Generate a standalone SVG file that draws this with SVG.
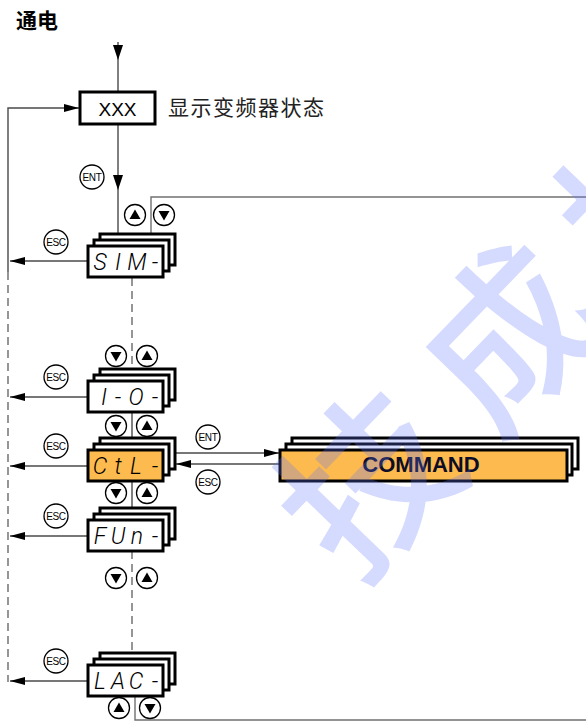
<svg xmlns="http://www.w3.org/2000/svg" xmlns:xlink="http://www.w3.org/1999/xlink" width="586" height="722" viewBox="0 0 586 722">
<style>
.ln{fill:none;stroke:#4a4a4a;stroke-width:1.4}
.dl{fill:none;stroke:#6a6a6a;stroke-width:1.4;stroke-dasharray:8 5}
.gl{fill:none;stroke:#707070;stroke-width:1.4}
.bx{fill:#fff;stroke:#000;stroke-width:3}
.bo{fill:#FDBA4E;stroke:#000;stroke-width:3}
.seg{font-family:Roboto,"DejaVu Sans",sans-serif;font-style:italic;font-weight:300;font-size:23px;fill:#000;text-anchor:middle}
.cb{fill:#fff;stroke:#000;stroke-width:1.3}
.kt{font-family:"Liberation Sans",Arial,sans-serif;font-size:10px;letter-spacing:-0.4px;text-anchor:middle;fill:#000}
.ah{fill:#000}
</style>
<defs>
<marker id="arr" markerUnits="userSpaceOnUse" markerWidth="15" markerHeight="8" refX="15" refY="4" orient="auto" viewBox="0 0 15 8">
<path d="M0,0 L15,4 L0,8 z" fill="#000"/>
</marker>
<g id="up"><circle r="10.5" class="cb"/><path d="M0,-5.5 L5.5,4 L-5.5,4 z" class="ah"/></g>
<g id="dn"><circle r="10.5" class="cb"/><path d="M0,5.5 L5.5,-4 L-5.5,-4 z" class="ah"/></g>
</defs>

<g id="title"><text x="16" y="28" font-family="'Noto Sans CJK SC',sans-serif" font-weight="700" font-size="21" fill="#000">通电</text></g>

<g id="connectors">
<line class="ln" x1="118" y1="42" x2="118" y2="92"/>
<path d="M113,45 L123,45 L118,60 z" fill="#000"/>
<line class="ln" x1="118" y1="124" x2="118" y2="234"/>
<path d="M113,175 L123,175 L118,190 z" fill="#000"/>
<polyline class="ln" points="8,272 8,108 79,108" marker-end="url(#arr)"/>
<line class="dl" x1="8" y1="272" x2="8" y2="682"/>
<polyline class="gl" points="151,234 151,197 586,197"/>
<line class="ln" x1="88" y1="261" x2="10" y2="261" marker-end="url(#arr)"/>
<line class="ln" x1="88" y1="397" x2="10" y2="397" marker-end="url(#arr)"/>
<line class="ln" x1="88" y1="466" x2="10" y2="466" marker-end="url(#arr)"/>
<line class="ln" x1="88" y1="536" x2="10" y2="536" marker-end="url(#arr)"/>
<line class="ln" x1="88" y1="681" x2="10" y2="681" marker-end="url(#arr)"/>
<line class="dl" x1="132" y1="278" x2="132" y2="369"/>
<line class="ln" x1="132" y1="412" x2="132" y2="438"/>
<line class="ln" x1="132" y1="481" x2="132" y2="508"/>
<line class="dl" x1="132" y1="551" x2="132" y2="653"/>
<polyline class="gl" points="135,696 135,720 586,720"/>
<line class="ln" x1="175" y1="453" x2="279" y2="453" marker-end="url(#arr)"/>
<line class="ln" x1="280" y1="464" x2="176" y2="464" marker-end="url(#arr)"/>
</g>

<g id="xxx">
<rect x="80" y="92" width="75" height="32" class="bx"/>
<text x="117.5" y="116" font-family="'Liberation Sans',Arial,sans-serif" font-size="19" text-anchor="middle">XXX</text>
<text x="168" y="115" font-family="'Noto Sans CJK SC',sans-serif" font-size="21" letter-spacing="1.5" fill="#222">显示变频器状态</text>
</g>

<g id="ent1"><circle cx="92" cy="177" r="12" class="cb"/><text x="92" y="180.5" class="kt">ENT</text></g>

<g id="sim">
<rect x="100" y="234" width="75" height="31" class="bx"/>
<rect x="94" y="240" width="75" height="31" class="bx"/>
<rect x="88" y="246" width="75" height="31" class="bx"/>
<text class="seg" x="100 118 137 155" y="270">SIM-</text>
<use xlink:href="#up" x="135" y="215"/><use xlink:href="#dn" x="164" y="215"/>
<circle cx="56" cy="242" r="12" class="cb"/><text x="56" y="245.5" class="kt">ESC</text>
</g>

<g id="io">
<rect x="100" y="369" width="75" height="31" class="bx"/>
<rect x="94" y="375" width="75" height="31" class="bx"/>
<rect x="88" y="381" width="75" height="31" class="bx"/>
<text class="seg" x="104 118 136 155" y="405">I-O-</text>
<use xlink:href="#dn" x="116" y="356"/><use xlink:href="#up" x="147" y="356"/>
<circle cx="56" cy="377" r="12" class="cb"/><text x="56" y="380.5" class="kt">ESC</text>
</g>

<g id="ctl">
<rect x="100" y="438" width="75" height="31" class="bx"/>
<rect x="94" y="444" width="75" height="31" class="bx"/>
<rect x="88" y="450" width="75" height="31" class="bo"/>
<text class="seg" x="100 118 136 155" y="474">CtL-</text>
<use xlink:href="#dn" x="116" y="426"/><use xlink:href="#up" x="147" y="426"/>
<circle cx="56" cy="446" r="12" class="cb"/><text x="56" y="449.5" class="kt">ESC</text>
</g>

<g id="ent2"><circle cx="208" cy="437" r="12" class="cb"/><text x="208" y="440.5" class="kt">ENT</text></g>
<g id="esc2"><circle cx="208" cy="482" r="12" class="cb"/><text x="208" y="485.5" class="kt">ESC</text></g>

<g id="command">
<rect x="292" y="438" width="286" height="31" class="bx"/>
<rect x="286" y="444" width="286" height="31" class="bx"/>
<rect x="280" y="450" width="287" height="31" class="bo"/>
<text x="421" y="472" font-family="'Liberation Sans',Arial,sans-serif" font-weight="700" font-size="22" text-anchor="middle" fill="#0d0d26">COMMAND</text>
</g>

<g id="fun">
<rect x="100" y="508" width="75" height="31" class="bx"/>
<rect x="94" y="514" width="75" height="31" class="bx"/>
<rect x="88" y="520" width="75" height="31" class="bx"/>
<text class="seg" x="100 118 137 155" y="544">FUn-</text>
<use xlink:href="#dn" x="116" y="493"/><use xlink:href="#up" x="147" y="493"/>
<use xlink:href="#dn" x="116" y="578"/><use xlink:href="#up" x="147" y="578"/>
<circle cx="56" cy="516" r="12" class="cb"/><text x="56" y="519.5" class="kt">ESC</text>
</g>

<g id="lac">
<rect x="100" y="653" width="75" height="31" class="bx"/>
<rect x="94" y="659" width="75" height="31" class="bx"/>
<rect x="88" y="665" width="75" height="31" class="bx"/>
<text class="seg" x="100 118 136 155" y="689">LAC-</text>
<use xlink:href="#up" x="119" y="708"/><use xlink:href="#dn" x="150" y="708"/>
<circle cx="56" cy="661" r="12" class="cb"/><text x="56" y="664.5" class="kt">ESC</text>
</g>

<g id="watermark" transform="translate(368,482) rotate(-46)">
<text x="-85" y="64" font-family="'Noto Sans CJK SC',sans-serif" font-weight="500" font-size="170" letter-spacing="32" fill="rgb(100,120,255)" fill-opacity="0.27">技成技</text>
</g>
</svg>
